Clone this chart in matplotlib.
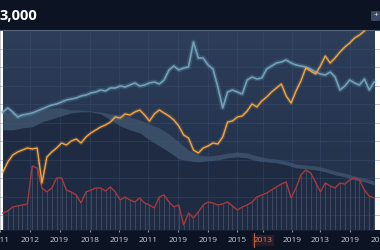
import numpy as np
import matplotlib
matplotlib.use("Agg")
import matplotlib.pyplot as plt
from matplotlib.colors import LinearSegmentedColormap
from matplotlib.patches import FancyBboxPatch
from matplotlib.lines import Line2D

# time index (one sample per step) and the three series
t = np.arange(0, 381, 5)

gold = [58, 68, 75, 78, 80, 82, 81, 82, 47, 73, 78, 82, 87, 85, 89, 91, 87, 93, 97, 100,
        103, 105, 108, 113, 112, 116, 115, 118, 120, 115, 109, 116, 120, 117, 114, 110, 104, 95, 92, 80,
        77, 82, 84, 87, 86, 93, 108, 109, 113, 114, 119, 126, 123, 129, 133, 138, 142, 146, 134, 127,
        139, 149, 162, 159, 156, 164, 174, 167, 172, 178, 183, 187, 192, 195, 199, np.nan, np.nan]

steel = [118, 122, 118, 113, 115, 116, 117, 119, 121, 123, 125, 126, 128, 130, 131, 132, 134, 135, 137, 138,
         140, 139, 142, 142, 144, 143, 145, 147, 144, 145, 147, 148, 146, 150, 160, 164, 160, 162, 163, 188,
         172, 172, 165, 161, 143, 122, 138, 140, 138, 136, 150, 153, 151, 152, 161, 164, 167, 168, 170, 167,
         165, 164, 163, 161, 158, 156, 155, 158, 153, 140, 144, 150, 147, 145, 151, 140, 148]

red = [17, 19, 23, 24, 25, 26, 64, 62, 42, 38, 42, 52, 52, 40, 38, 35, 27, 38, 40, 42,
       42, 39, 43, 38, 30, 33, 30, 28, 32, 27, 25, 22, 33, 35, 28, 23, 25, 5, 17, 12,
       18, 25, 28, 27, 25, 26, 28, 24, 20, 23, 25, 28, 33, 35, 37, 40, 43, 46, 48, 32,
       42, 55, 60, 57, 48, 38, 47, 44, 42, 47, 46, 50, 52, 50, 40, 34, 32]

# background layers (coarser sampling)
t2 = np.arange(0, 381, 10)
ridge = [100, 100, 102, 103, 108, 111, 114, 117, 118, 118, 116, 110, 104, 100, 97, 90, 84, 78, 71, 69,
         68, 69, 70, 72, 73, 72, 69, 68, 67, 65, 62, 61, 60, 58, 55, 53, 50, 48, 45]
haze = [118, 118, 116, 117, 120, 122, 122, 120, 120, 119, 118, 116, 115, 113, 110, 106, 102, 96, 88, 80,
        75, 74, 75, 77, 78, 77, 74, 72, 71, 69, 66, 65, 64, 62, 59, 57, 54, 52, 49]

tick_pos = [-3, 28, 58, 89, 119, 149, 179, 210, 240, 266, 296, 325, 355, 386]
tick_lab = ["2011", "2012", "2019", "2018", "2019", "2011", "2019", "2019", "2015",
            "2013", "2019", "2013", "2019", "2019"]

W, H = 380, 250
fig = plt.figure(figsize=(3.8, 2.5), dpi=100)
fig.patch.set_facecolor("#0c1424")
plt.rcParams['font.family'] = ['Open Sans', 'DejaVu Sans']

ax = fig.add_axes([0, 20 / H, 1, 200 / H])
ax.set_xlim(0, 380)
ax.set_ylim(0, 200)

bg = LinearSegmentedColormap.from_list("bg", ["#212e46", "#2d3e5a"])
ax.imshow(np.linspace(0, 1, 100).reshape(-1, 1), extent=[0, 380, 0, 200], aspect="auto",
          cmap=bg, origin="lower", zorder=0)

ax.fill_between(t2, ridge, haze, color="#394d67", lw=0, zorder=1)
ax.fill_between(t2, 0, ridge, color="#1e2b42", lw=0, zorder=1.2)

ax.set_xticks(tick_pos)
ax.set_xticklabels(tick_lab)
ax.set_yticks(np.arange(15, 200, 18.5))
ax.grid(True, color="#44567a", lw=0.5, alpha=0.45, zorder=1.5)
ax.tick_params(axis="y", left=False, labelleft=False)
ax.tick_params(axis="x", length=1.5, color="#8894aa", pad=3.5, labelsize=6, labelcolor="#c5ccd8")

# thin volume-like bars under the red line
ax.vlines(t, 0, red, color="#495168", lw=0.8, alpha=0.75, zorder=2)

ax.plot(t, steel, color="#6b9db3", lw=3.5, alpha=0.25, zorder=3)
ax.plot(t, steel, color="#6fa2b8", lw=1.2, zorder=3.1)
ax.plot(t, red, color="#a63a3c", lw=1.0, zorder=3.2)
ax.plot(t, gold, color="#f0a23e", lw=2.8, alpha=0.2, zorder=3.3)
ax.plot(t, gold, color="#f3a640", lw=1.0, zorder=3.4)

for s in ["left", "right", "bottom"]:
    ax.spines[s].set_visible(False)
ax.spines["top"].set_color("#56637c")
ax.spines["top"].set_linewidth(0.8)

# highlighted label
hl = ax.get_xticklabels()[9]
hl.set_color("#e2774e")
hl.set_bbox(dict(facecolor="#2a1c24", edgecolor="none", pad=1.2))
fig.add_artist(Line2D([254 / W, 254 / W], [3 / H, 17 / H], color="#c2603c", lw=0.8))

fig.text(0 / W, 1 - 16 / H, "3,000", color="white", fontsize=10.5, fontweight="bold",
         ha="left", va="center")
fig.add_artist(FancyBboxPatch((371 / W, 1 - 21 / H), 9 / W, 10 / H,
                              boxstyle="round,pad=0,rounding_size=0.005",
                              facecolor="#3a4862", edgecolor="none", transform=fig.transFigure))
fig.text(375.5 / W, 1 - 16 / H, "+", color="white", fontsize=6, ha="center", va="center")

fig.savefig("out.png", dpi=100, facecolor=fig.get_facecolor())
